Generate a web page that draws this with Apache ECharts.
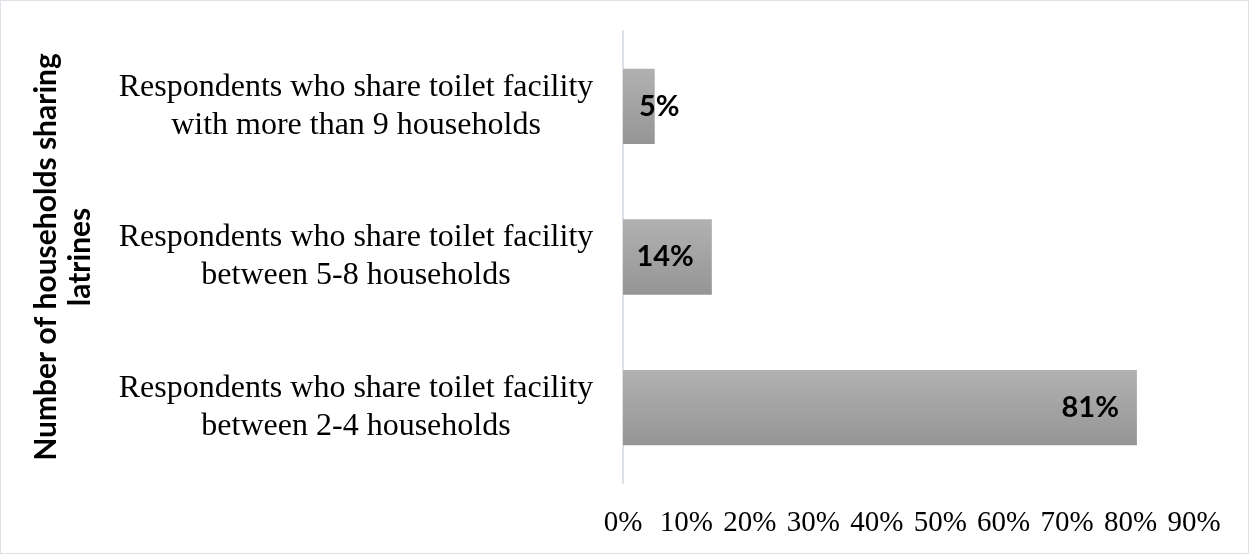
<!DOCTYPE html>
<html>
<head>
<meta charset="utf-8">
<script src="https://cdn.jsdelivr.net/npm/echarts@6/dist/echarts.min.js"></script>
<style>
  html, body { margin: 0; padding: 0; background: #fff; }
  #chart { width: 1247px; height: 552px; border: 1px solid #dce1e8; }
</style>
</head>
<body>
<div id="chart"></div>
<script>
// Share of respondents by number of households using the same latrine
const categories = [
  'Respondents who share toilet facility\nbetween 2-4 households',
  'Respondents who share toilet facility\nbetween 5-8 households',
  'Respondents who share toilet facility\nwith more than 9 households'
];
const shares = [81, 14, 5];
const axisTitle = 'Number of households sharing\nlatrines';
const xMax = 90;
const xStep = 10;

const chart = echarts.init(document.getElementById('chart'));

const barFill = new echarts.graphic.LinearGradient(0, 0, 0, 1, [
  { offset: 0, color: '#b1b1b1' },
  { offset: 1, color: '#959595' }
]);

chart.setOption({
  backgroundColor: '#ffffff',
  animation: false,
  grid: { left: 622, right: 54, top: 30, bottom: 70 },
  xAxis: {
    type: 'value',
    min: 0,
    max: xMax,
    interval: xStep,
    axisLine: { show: false },
    axisTick: { show: false },
    splitLine: { show: false },
    axisLabel: {
      formatter: '{value}%',
      fontFamily: 'Liberation Serif',
      fontSize: 29,
      color: '#000',
      margin: 26
    }
  },
  yAxis: {
    type: 'category',
    data: categories,
    axisLine: { show: true, lineStyle: { color: '#dce1e8', width: 2 } },
    axisTick: { show: false },
    axisLabel: {
      fontFamily: 'Liberation Serif',
      fontSize: 32,
      lineHeight: 38,
      color: '#000',
      align: 'center',
      margin: 267
    },
    name: axisTitle,
    nameLocation: 'middle',
    nameRotate: 90,
    nameGap: 526,
    nameTextStyle: {
      fontFamily: 'Lato',
      fontWeight: 'bold',
      fontSize: 30,
      lineHeight: 34,
      color: '#000'
    }
  },
  series: [{
    type: 'bar',
    barCategoryGap: '50%',
    itemStyle: { color: barFill },
    label: {
      show: true,
      position: 'insideRight',
      distance: 18,
      formatter: '{c}%',
      fontFamily: 'Lato',
      fontWeight: 'bold',
      fontSize: 29,
      color: '#000'
    },
    data: shares.map(v => v < 10
      ? { value: v, label: { position: 'insideLeft', distance: 16 } }
      : v)
  }]
});
</script>
</body>
</html>
